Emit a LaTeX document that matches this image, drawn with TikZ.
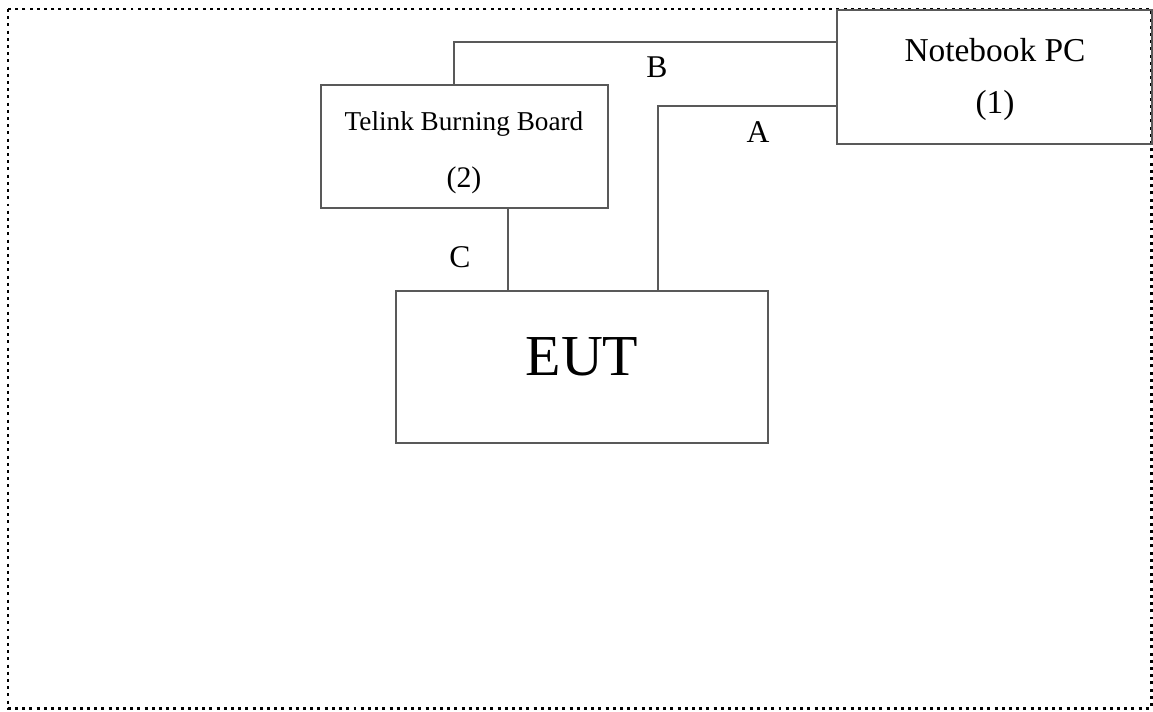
\documentclass[tikz,border=0pt]{standalone}
\usepackage{fontspec}
\setmainfont{Liberation Serif}
\usetikzlibrary{calc}

\begin{document}
\begin{tikzpicture}[x=0.02cm,y=-0.02cm,
    box/.style={draw=black!65,line width=0.9pt,rectangle,inner sep=0pt},
    wire/.style={draw=black!65,line width=0.9pt},
    lbl/.style={inner sep=0pt,font=\fontsize{18}{20}\selectfont}]
          \useasboundingbox (0,0) rectangle (1153,711);
          \draw[line width=1.7pt,dash pattern=on 1.7pt off 2.4pt] (8,9) rectangle (1151,708);

          % equipment
          \node[box,minimum width=6.3cm,minimum height=2.68cm] (nb) at (994.5,77){};
          \node[box,minimum width=5.74cm,minimum height=2.46cm] (telink) at (464.5,146.5){};
          \node[box,minimum width=7.44cm,minimum height=3.04cm] (eut) at (582,367){};

          \node[font=\fontsize{19}{21}\selectfont] (nbname) at (995,50){Notebook PC};
          \node[font=\fontsize{19}{21}\selectfont] (nbno) at (995,105){(1)};
          \node[font=\fontsize{15.5}{18}\selectfont] (telname) at (464,124){Telink Burning Board};
          \node[font=\fontsize{17}{19}\selectfont] (telno) at (464,180){(2)};
          \node[font=\fontsize{33}{36}\selectfont] (eutname) at (582,357){EUT};

          % cables
          \draw[wire] ([xshift=-0.21cm]telink.north) |- ([yshift=0.7cm]nb.west);
          \draw[wire] ([xshift=1.52cm]eut.north) |- ([yshift=-0.58cm]nb.west);
          \draw[wire] ([xshift=0.87cm]telink.south) -- ([xshift=0.87cm]telink.south |- eut.north);

          \node[lbl] (labB) at (657,67){B};
          \node[lbl] (labA) at (758,132){A};
          \node[lbl] (labC) at (460,257){C};
        \end{tikzpicture}
\end{document}
